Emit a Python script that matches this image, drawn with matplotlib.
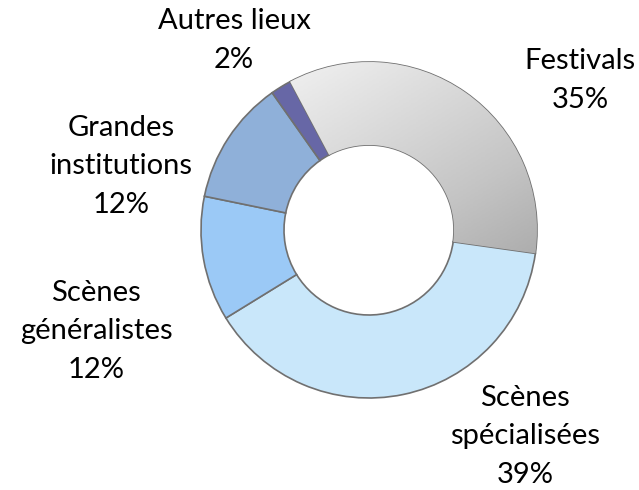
import numpy as np
import matplotlib
matplotlib.use("Agg")
import matplotlib.pyplot as plt
from matplotlib.colors import LinearSegmentedColormap

# données du graphique (parts en %)
categories = ["Festivals", "Scènes\nspécialisées", "Scènes\ngénéralistes",
              "Grandes\ninstitutions", "Autres lieux"]
parts = [35, 39, 12, 12, 2]
colors = ["#b8b8b8", "#c9e7fa", "#9bc9f6", "#8fb0d9", "#6767a6"]

W, H = 639, 490
fig = plt.figure(figsize=(W / 100, H / 100), dpi=100)
ax = fig.add_axes([0, 0, 1, 1])

cx, cy = 369, H - 230
R = 168
wedges, _ = ax.pie(parts, startangle=118, counterclock=False, colors=colors,
                   radius=R, center=(cx, cy),
                   wedgeprops=dict(width=83, edgecolor="#707070", linewidth=1.2))

# dégradé gris pour la part "Festivals"
grey = LinearSegmentedColormap.from_list("grey", ["#eeeeee", "#c4c4c4", "#929292"])
xx, yy = np.meshgrid(np.linspace(0, 1, 200), np.linspace(0, 1, 200))
grad = np.clip(0.45 * xx + 0.75 * yy - 0.15, 0, 1)
img = ax.imshow(grad, cmap=grey, vmin=0, vmax=1, origin="upper",
                extent=(cx - R, cx + R, cy - R, cy + R), zorder=1.5)
img.set_clip_path(wedges[0])

ax.set_xlim(0, W)
ax.set_ylim(0, H)
ax.set_aspect("equal")
ax.axis("off")

# étiquettes : centre horizontal et ligne de base de la dernière ligne (pixels)
label_x = [580, 525, 96, 121, 234]
label_base = [108, 483, 378, 213, 68]
for name, p, lx, lb in zip(categories, parts, label_x, label_base):
    ax.text(lx, H - lb, "{}\n{}%".format(name, p), ha="center", va="baseline",
            fontsize=21, family="Lato", linespacing=1.6, color="#000000")

fig.savefig("out.png", dpi=100)
